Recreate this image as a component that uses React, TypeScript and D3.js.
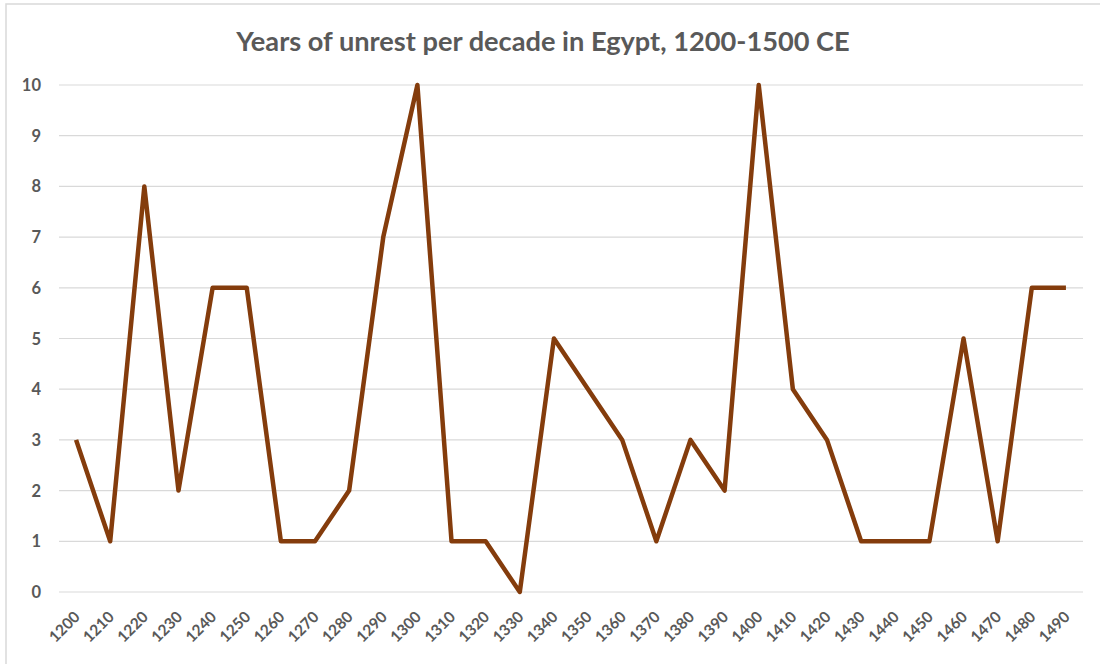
import React from "react";
import * as d3 from "d3";

const decades: string[] = ["1200","1210","1220","1230","1240","1250","1260","1270","1280","1290","1300","1310","1320","1330","1340","1350","1360","1370","1380","1390","1400","1410","1420","1430","1440","1450","1460","1470","1480","1490"];
const unrest: number[] = [3,1,8,2,6,6,1,1,2,7,10,1,1,0,5,4,3,1,3,2,10,4,3,1,1,1,5,1,6,6];
const yTicks: number[] = [0,1,2,3,4,5,6,7,8,9,10];
const title = "Years of unrest per decade in Egypt, 1200-1500 CE";

export default function App() {
  const W = 1100, H = 664;
  const left = 59, right = 1083, top = 85, bottom = 592;
  const x = d3.scaleBand<string>().domain(decades).range([left, right]);
  const y = d3.scaleLinear().domain([0, 10]).range([bottom, top]);
  const line = d3.line<number>()
    .x((_, i) => (x(decades[i]) as number) + x.bandwidth() / 2)
    .y((d) => y(d));
  const font = "Lato, 'Open Sans', sans-serif";
  return (
    <svg width={W} height={H} style={{ position: "absolute", left: 0, top: 0, background: "#fff" }}>
      <rect x={6} y={4} width={W} height={H} fill="#fff" stroke="#d9d9d9" strokeWidth={1.5} />
      <text x={543} y={51} textAnchor="middle" fontFamily={font} fontWeight="bold" fontSize={27.2} fill="#595959">{title}</text>
      {yTicks.map((t) => (
        <g key={t}>
          <line x1={left} x2={right} y1={y(t)} y2={y(t)} stroke="#d9d9d9" strokeWidth={1.2} />
          <text x={41} y={y(t) + 6} textAnchor="end" fontFamily={font} fontWeight="bold" fontSize={16.5} fill="#595959">{t}</text>
        </g>
      ))}
      {decades.map((d) => {
        const cx = (x(d) as number) + x.bandwidth() / 2;
        return (
          <text key={d} transform={`translate(${cx + 2},${y(0) + 23}) rotate(-45)`} textAnchor="end" dominantBaseline="middle" fontFamily={font} fontWeight="bold" fontSize={15.5} fill="#595959">{d}</text>
        );
      })}
      <path d={line(unrest) || ""} fill="none" stroke="#843c0c" strokeWidth={4.5} strokeLinejoin="round" />
    </svg>
  );
}
